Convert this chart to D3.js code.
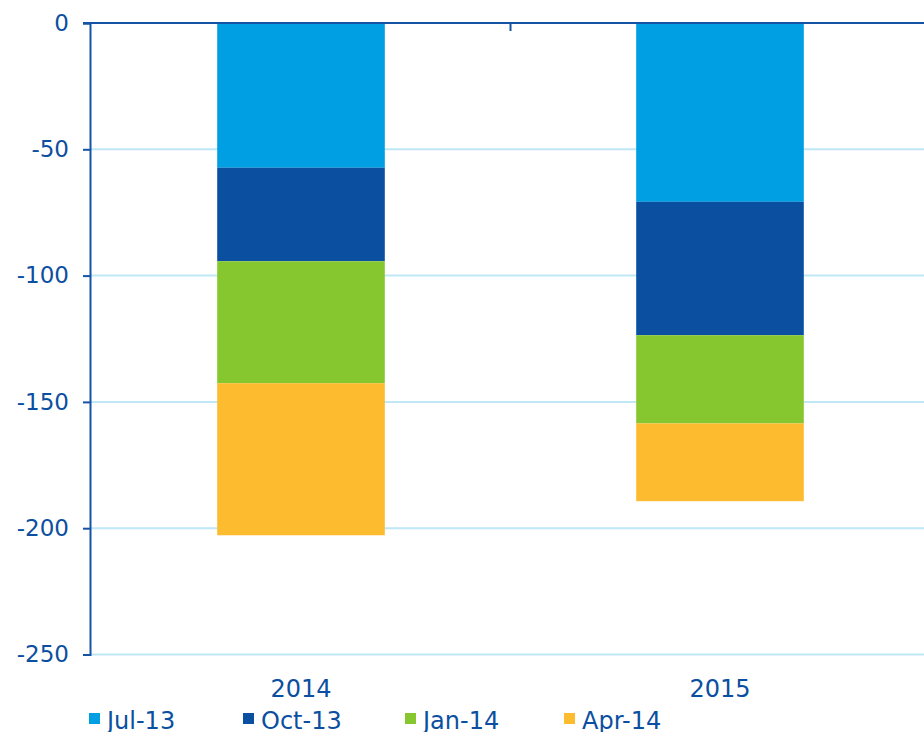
<!DOCTYPE html>
<html>
<head>
<meta charset="utf-8">
<script src="https://cdn.jsdelivr.net/npm/d3@7"></script>
<style>
  html, body { margin: 0; padding: 0; background: #fff; }
  svg { display: block; font-family: "DejaVu Sans", sans-serif; }
</style>
</head>
<body>
<svg id="chart" width="924" height="732"></svg>
<script>
// data
var categories = ['2014', '2015'];
var seriesNames = ['Jul-13', 'Oct-13', 'Jan-14', 'Apr-14'];
var jul13 = [-57.3, -70.8];
var oct13 = [-37.0, -52.8];
var jan14 = [-48.3, -34.9];
var apr14 = [-60.2, -30.8];
var yTicks = [0, -50, -100, -150, -200, -250];
var colors = ['#009fe3', '#0a4fa0', '#86c72f', '#fdbb2f'];

var textColor = '#0b4fa0';
var axisColor = '#1553a5';
var gridColor = '#bfe7f6';

var svg = d3.select('#chart');

var x = d3.scaleBand()
    .domain(categories)
    .range([91.5, 929.5])
    .paddingInner(0.6)
    .paddingOuter(0.3);

var y = d3.scaleLinear()
    .domain([0, -250])
    .range([23, 654.5]);

// stack the negative series downward from zero
var rows = categories.map(function (c, i) {
    return { cat: c, 'Jul-13': jul13[i], 'Oct-13': oct13[i], 'Jan-14': jan14[i], 'Apr-14': apr14[i] };
});
var stacked = d3.stack().keys(seriesNames).offset(d3.stackOffsetDiverging)(rows);

// gridlines
svg.append('g')
    .selectAll('line')
    .data(yTicks.filter(function (d) { return d !== 0; }))
    .join('line')
    .attr('x1', 90).attr('x2', 924)
    .attr('y1', function (d) { return y(d); })
    .attr('y2', function (d) { return y(d); })
    .attr('stroke', gridColor)
    .attr('stroke-width', 2);

// bars (for negatives d[0] is the lower end, d[1] the upper)
svg.append('g')
    .selectAll('g')
    .data(stacked)
    .join('g')
    .attr('fill', function (d, i) { return colors[i]; })
    .selectAll('rect')
    .data(function (d) { return d; })
    .join('rect')
    .attr('x', function (d) { return x(d.data.cat); })
    .attr('width', x.bandwidth())
    .attr('y', function (d) { return y(Math.max(d[0], d[1])); })
    .attr('height', function (d) { return Math.abs(y(d[0]) - y(d[1])); });

// y axis
var yAxis = svg.append('g')
    .attr('transform', 'translate(90,0)')
    .call(d3.axisLeft(y)
        .tickValues(yTicks)
        .tickFormat(function (d) { return String(d); })
        .tickSize(7)
        .tickPadding(14));
yAxis.select('.domain').attr('stroke', axisColor).attr('stroke-width', 2);
yAxis.selectAll('.tick line').attr('stroke', axisColor).attr('stroke-width', 2);
yAxis.selectAll('.tick text')
    .attr('fill', textColor)
    .attr('font-size', 23)
    .attr('font-family', '"DejaVu Sans", sans-serif');

// x axis line at zero with a divider tick between categories
svg.append('line')
    .attr('x1', 83).attr('x2', 924)
    .attr('y1', y(0)).attr('y2', y(0))
    .attr('stroke', axisColor)
    .attr('stroke-width', 2);

var divX = (x(categories[0]) + x.bandwidth() + x(categories[1])) / 2;
svg.append('line')
    .attr('x1', divX).attr('x2', divX)
    .attr('y1', y(0)).attr('y2', y(0) + 8)
    .attr('stroke', axisColor)
    .attr('stroke-width', 2);

// category labels under the plot
svg.append('g')
    .selectAll('text')
    .data(categories)
    .join('text')
    .attr('x', function (d) { return x(d) + x.bandwidth() / 2; })
    .attr('y', 697)
    .attr('text-anchor', 'middle')
    .attr('fill', textColor)
    .attr('font-size', 24)
    .text(function (d) { return d; });

// legend
var legendX = [89, 243, 405, 564];
var legend = svg.append('g')
    .selectAll('g')
    .data(seriesNames)
    .join('g')
    .attr('transform', function (d, i) { return 'translate(' + legendX[i] + ',0)'; });

legend.append('rect')
    .attr('x', 0).attr('y', 713)
    .attr('width', 11).attr('height', 11)
    .attr('fill', function (d, i) { return colors[i]; });

legend.append('text')
    .attr('x', 18).attr('y', 729)
    .attr('fill', textColor)
    .attr('font-size', 24)
    .text(function (d) { return d; });
</script>
</body>
</html>
